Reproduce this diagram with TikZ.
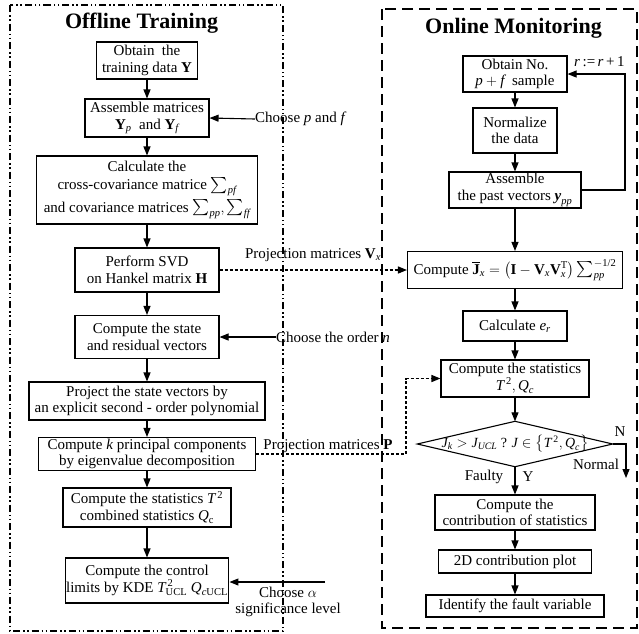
\documentclass[tikz,border=0pt]{standalone}
\usepackage{amsmath}
\usepackage{fontspec}
\setmainfont{Liberation Serif}
\usetikzlibrary{arrows.meta}
\newcommand{\vi}[1]{\textit{#1}}
\newcommand{\vb}[1]{\textbf{#1}}
\newcommand{\bigsum}{\mathop{\scalebox{1.12}{$\sum$}}\nolimits}
\begin{document}
\begin{tikzpicture}[x=1pt,y=-1pt,
  every node/.style={font=\fontsize{15}{16.5}\selectfont},
  box/.style={draw, line width=1.1pt, align=center, inner sep=1pt},
  arr/.style={line width=1.1pt, -{Triangle[length=9pt,width=7pt]}},
  proj/.style={line width=1.4pt, dash pattern=on 3pt off 2pt, -{Triangle[length=9pt,width=7pt]}},
  ttl/.style={font=\fontsize{22}{24}\selectfont\bfseries},
  lbl/.style={align=center, inner sep=0pt}]
\useasboundingbox (0,0) rectangle (639,633);
\fill[white] (0,0) rectangle (639,633);
% frames
\draw[line width=2pt, dash pattern=on 7pt off 3pt on 1.5pt off 2.5pt on 1.5pt off 3pt] (10,5) rectangle (283,631);
\draw[line width=2pt, dash pattern=on 11pt off 6pt] (382,9) rectangle (637,628);
% titles
\node[ttl] (tl) at (141.5,23) {Offline Training};
\node[ttl] (tr) at (513.5,28) {Online Monitoring};
% left column
\node[box, minimum width=101pt, minimum height=37pt] (n1) at (147,60.5) {Obtain\ \ the\\training data \vb{Y}};
\node[box, minimum width=124pt, minimum height=38pt] (n2) at (147,118) {Assemble matrices\\$\vb{Y}_{\vi{p}}$\ \ and $\vb{Y}_{\vi{f}}$};
\node[box, minimum width=221pt, minimum height=68pt] (n3) at (147,190) {Calculate the\\[1pt]cross-covariance matrice $\bigsum_{\vi{pf}}$\\[3pt]and covariance matrices $\bigsum_{\vi{pp}},\bigsum_{\vi{ff}}$};
\node[box, minimum width=144pt, minimum height=44pt] (n4) at (147,270) {Perform SVD\\on Hankel matrix \vb{H}};
\node[box, minimum width=144pt, minimum height=43pt] (n5) at (147,337) {Compute the state\\and residual vectors};
\node[box, minimum width=236pt, minimum height=38pt] (n6) at (147,401) {Project the state vectors by\\an explicit second - order polynomial};
\node[box, minimum width=217pt, minimum height=33pt] (n7) at (147,454) {Compute \vi{k} principal components\\by eigenvalue decomposition};
\node[box, minimum width=168pt, minimum height=39pt] (n8) at (147,507.5) {Compute the statistics $\vi{T}^{\,\text{2}}$\\combined statistics $\vi{Q}_{\text{c}}$};
\node[box, minimum width=161pt, minimum height=45pt] (n9) at (147,580.5) {Compute the control\\limits by KDE $\vi{T}^{\,\text{2}}_{\text{UCL}}$\ $\vi{Q}_{\vi{c}\text{UCL}}$};
% right column
\node[box, minimum width=104pt, minimum height=36pt] (m1) at (515,74) {Obtain No.\\$\vi{p}+\vi{f}$\ \ sample};
\node[box, minimum width=84pt, minimum height=45pt] (m2) at (515,130.5) {Normalize\\the data};
\node[box, minimum width=132pt, minimum height=36pt] (m3) at (515,190) {Assemble\\the past vectors $\textbf{\textit{y}}_{\vi{pp}}$};
\node[box, minimum width=215pt, minimum height=37pt] (m4) at (515,270) {Compute $\overline{\vb{J}}_{\vi{x}}=\left(\vb{I}-\vb{V}_{\vi{x}}\vb{V}_{\vi{x}}^{\text{T}}\right)\bigsum_{\vi{pp}}^{\text{$-$1/2}}$};
\node[box, minimum width=104pt, minimum height=30pt] (m5) at (515,326) {Calculate $\vi{e}_{\vi{r}}$};
\node[box, minimum width=148pt, minimum height=37pt] (m6) at (515,378.5) {Compute the statistics\\$\vi{T}^{\,\text{2}},\vi{Q}_{\vi{c}}$};
\node[minimum width=195pt, minimum height=45pt, inner sep=0pt, font=\fontsize{14}{15}\selectfont] (d) at (515,444) {$\vi{J}_{\vi{k}}>\vi{J}_{\vi{UCL}}$ ? $\vi{J}\in\left\{\vi{T}^{\,\text{2}},\vi{Q}_{\vi{c}}\right\}$};
\draw[line width=1.1pt] (d.west) -- (d.north) -- (d.east) -- (d.south) -- cycle;
\node[box, minimum width=160pt, minimum height=35pt] (m7) at (515,512.5) {Compute the\\contribution of statistics};
\node[box, minimum width=153pt, minimum height=23pt] (m8) at (515,561.5) {2D contribution plot};
\node[box, minimum width=178pt, minimum height=22pt] (m9) at (515,606) {Identify the fault variable};
% labels
\node[lbl, anchor=west] (t1) at (255,119) {Choose \vi{p} and \vi{f}};
\node[lbl, anchor=west] (t2) at (276,337) {Choose the order \vi{n}};
\node[lbl] (t3) at (288,602) {Choose $\alpha$\\significance level};
\coordinate (ca) at (325,582);
\node[lbl] (pv) at (313,255) {Projection matrices $\vb{V}_{\vi{x}}$};
\node[lbl] (pp) at (328,446) {Projection matrices \vb{P}};
\node[lbl, anchor=west] (rr) at (574,62) {\vi{r}\,:=\,\vi{r}\,+\,1};
\node[lbl] (nn) at (620,432) {N};
\node[lbl] (nm) at (596,464) {Normal};
\node[lbl] (fy) at (484,477) {Faulty};
\node[lbl] (yy) at (528,477) {Y};
\coordinate (lp1) at (625,190);
\coordinate (nd) at (626,478);
\coordinate (cp) at (406,378.5);
% connectors
\foreach \a/\b in {n1/n2,n2/n3,n3/n4,n4/n5,n5/n6,n6/n7,n7/n8,n8/n9,m1/m2,m2/m3,m3/m4,m4/m5,m5/m6,m6/d,m7/m8,m8/m9}
  \draw[arr] (\a.south) -- (\b.north);
\draw[arr] (d.south) -- (m7.north);
\draw[arr] (t1.west) -- (n2.east);
\draw[arr] (t2.west) -- (n5.east);
\draw[arr] (ca) -- (ca -| n9.east);
\draw[proj] (n4.east) -- (m4.west);
\draw[proj] (n7.east) -| (cp) -- (m6.west);
\draw[arr] (m3.east) -- (lp1) |- (m1.east);
\draw[arr] (d.east) -| (nd);
\end{tikzpicture}
\end{document}
